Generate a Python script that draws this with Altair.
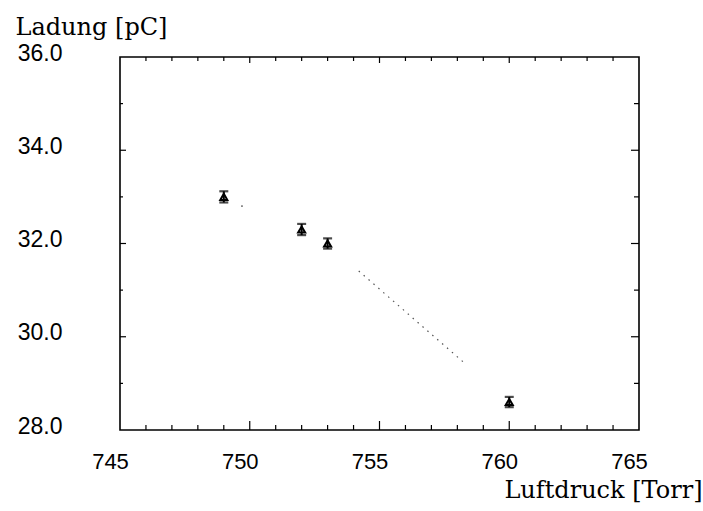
import altair as alt
import pandas as pd

# measured data
pressure = [749.0, 752.0, 753.0, 760.0]
charge = [33.0, 32.3, 32.0, 28.6]
err = [0.12, 0.12, 0.11, 0.11]

# dotted fit line (visible part) and isolated dot
fit_x = [754.2, 758.35]
fit_y = [31.41, 29.40]
stray_x = [749.7]
stray_y = [32.80]

x_labels = [745, 750, 755, 760, 765]
y_labels = [28, 30, 32, 34, 36]
x_major_ticks = [750, 755, 760]
x_minor_ticks = [746, 747, 748, 749, 751, 752, 753, 754, 756, 757, 758, 759, 761, 762, 763, 764]
y_major_ticks = [30, 32, 34]
y_minor_ticks = [29, 31, 33, 35]

W, H = 519, 373

df = pd.DataFrame({"p": pressure, "q": charge, "lo": [c - e for c, e in zip(charge, err)],
                   "hi": [c + e for c, e in zip(charge, err)]})
fit_df = pd.DataFrame({"p": fit_x, "q": fit_y})
stray_df = pd.DataFrame({"p": stray_x, "q": stray_y})

xs = alt.Scale(domain=[745, 765], nice=False, zero=False)
ys = alt.Scale(domain=[28, 36], nice=False, zero=False)

label_font = "Liberation Sans"
title_font = "DejaVu Serif"

xaxis = alt.Axis(values=x_labels, format="d", domain=False, ticks=False, tickSize=0, grid=False,
                 labelFont=label_font, labelFontSize=22, labelColor="black", labelPadding=21,
                 labelOffset=-10, labelFlush=False, labelOverlap=False,
                 title="Luftdruck [Torr]", titleFont=title_font, titleFontSize=24,
                 titleFontWeight="normal", titleColor="black", titleAnchor="end",
                 titleAlign="right", titleBaseline="middle", titleX=582, titleY=60)
yaxis = alt.Axis(values=y_labels, format=".1f", domain=False, ticks=False, tickSize=0, grid=False,
                 labelFont=label_font, labelFontSize=23, labelColor="black", labelPadding=58,
                 labelOffset=-4, labelFlush=False, labelOverlap=False,
                 title="Ladung [pC]", titleFont=title_font, titleFontSize=24,
                 titleFontWeight="normal", titleColor="black", titleAngle=0,
                 titleAlign="left", titleBaseline="middle", titleX=-105, titleY=-30)

base = alt.Chart(df)

errbar = base.mark_rule(color="black", strokeWidth=2).encode(
    x=alt.X("p:Q", scale=xs, axis=xaxis),
    y=alt.Y("lo:Q", scale=ys, axis=yaxis),
    y2="hi:Q",
)
cap_lo = base.mark_tick(color="black", orient="horizontal", size=9, thickness=2.2).encode(
    x=alt.X("p:Q", scale=xs), y=alt.Y("lo:Q", scale=ys))
cap_hi = base.mark_tick(color="black", orient="horizontal", size=9, thickness=2.2).encode(
    x=alt.X("p:Q", scale=xs), y=alt.Y("hi:Q", scale=ys))
pts = base.mark_point(shape="triangle-up", filled=False, color="black", opacity=1, size=50,
                      strokeWidth=2).encode(
    x=alt.X("p:Q", scale=xs), y=alt.Y("q:Q", scale=ys))

fit = alt.Chart(fit_df).mark_line(color="#555555", strokeWidth=1.2, strokeDash=[1.5, 5]).encode(
    x=alt.X("p:Q", scale=xs), y=alt.Y("q:Q", scale=ys))
stray = alt.Chart(stray_df).mark_point(filled=True, color="#444444", size=3, shape="square").encode(
    x=alt.X("p:Q", scale=xs), y=alt.Y("q:Q", scale=ys))

def xticks(vals, y0, y1):
    return alt.Chart(pd.DataFrame({"t": vals})).mark_rule(color="black", strokeWidth=1.2).encode(
        x=alt.X("t:Q", scale=xs), y=alt.value(y0), y2=alt.value(y1))

def yticks(vals, x0, x1):
    return alt.Chart(pd.DataFrame({"t": vals})).mark_rule(color="black", strokeWidth=1.2).encode(
        y=alt.Y("t:Q", scale=ys), x=alt.value(x0), x2=alt.value(x1))

ticks = [
    xticks(x_major_ticks, H, H - 9),
    xticks(x_minor_ticks, H, H - 5),
    xticks(x_major_ticks, 0, 6),
    xticks(x_minor_ticks, 0, 4),
    yticks(y_major_ticks, 0, 6),
    yticks(y_minor_ticks, 0, 3),
    yticks(y_major_ticks, W, W - 8),
    yticks(y_minor_ticks, W, W - 5),
]

chart = alt.layer(errbar, cap_lo, cap_hi, pts, fit, stray, *ticks).properties(
    width=W, height=H,
    autosize=alt.AutoSizeParams(type="none"),
    padding={"left": 120, "top": 57, "right": 64, "bottom": 81},
    background="white",
).configure_view(stroke="black", strokeWidth=1.6)

chart.save("out.html", embed_options={"renderer": "svg", "actions": False})
